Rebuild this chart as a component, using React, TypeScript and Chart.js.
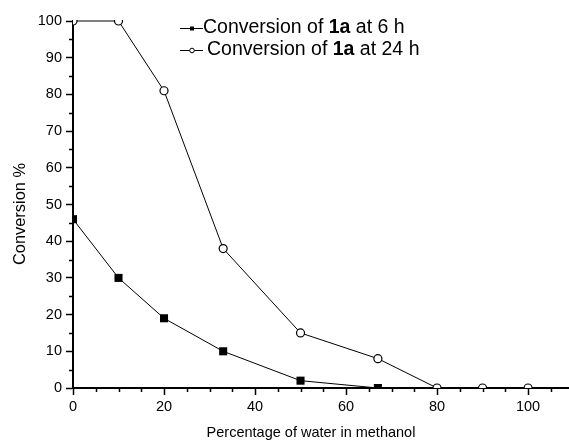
import React, { useEffect, useRef } from "react";
import { Chart, registerables } from "chart.js";

Chart.register(...registerables);

// ---- data ----
const waterPct6h = [0, 10, 20, 33, 50, 67];
const conversion6h = [46, 30, 19, 10, 2, 0];
const waterPct24h = [0, 10, 20, 33, 50, 67, 80, 90, 100];
const conversion24h = [100, 100, 81, 38, 15, 8, 0, 0, 0];
const legendParts6h = [
  { t: "Conversion of ", b: false },
  { t: "1a", b: true },
  { t: " at 6 h", b: false },
];
const legendParts24h = [
  { t: "Conversion of ", b: false },
  { t: "1a", b: true },
  { t: " at 24 h", b: false },
];
const xTitle = "Percentage of water in methanol";
const yTitle = "Conversion %";

const FONT = "'Liberation Sans', Arial, Helvetica, sans-serif";

const minorTicksPlugin = {
  id: "minorTicks",
  afterDraw(chart: any) {
    const ctx = chart.ctx;
    const xs = chart.scales.x;
    const ys = chart.scales.y;
    ctx.save();
    ctx.strokeStyle = "#000";
    ctx.lineWidth = 1.5;
    ctx.beginPath();
    for (let v = xs.min; v <= xs.max; v += 5) {
      if (v % 20 === 0) continue;
      const px = Math.round(xs.getPixelForValue(v)) + 0.5;
      ctx.moveTo(px, ys.bottom);
      ctx.lineTo(px, ys.bottom + 4);
    }
    for (let v = ys.min; v <= ys.max; v += 5) {
      if (v % 10 === 0) continue;
      const py = Math.round(ys.getPixelForValue(v)) + 0.5;
      ctx.moveTo(xs.left, py);
      ctx.lineTo(xs.left - 4, py);
    }
    ctx.stroke();
    ctx.restore();
  },
};

const axisTitlesPlugin = {
  id: "axisTitles",
  afterDraw(chart: any) {
    const ctx = chart.ctx;
    ctx.save();
    ctx.fillStyle = "#000";
    ctx.textAlign = "center";
    ctx.textBaseline = "middle";
    ctx.font = "14.5px " + FONT;
    ctx.fillText(xTitle, 311, 433);
    ctx.translate(20, 214);
    ctx.rotate(-Math.PI / 2);
    ctx.font = "16.4px " + FONT;
    ctx.fillText(yTitle, 0, 0);
    ctx.restore();
  },
};

const legendPlugin = {
  id: "customLegend",
  afterDraw(chart: any) {
    const ctx = chart.ctx;
    const items = [
      { parts: legendParts6h, y: 28, textX: 203, marker: "rect" },
      { parts: legendParts24h, y: 50, textX: 207, marker: "circle" },
    ];
    ctx.save();
    items.forEach((it) => {
      ctx.strokeStyle = "#000";
      ctx.lineWidth = 1;
      ctx.beginPath();
      ctx.moveTo(180, it.y + 0.5);
      ctx.lineTo(203, it.y + 0.5);
      ctx.stroke();
      if (it.marker === "rect") {
        ctx.fillStyle = "#000";
        ctx.fillRect(190, it.y - 1.5, 4, 4);
      } else {
        ctx.fillStyle = "#fff";
        ctx.beginPath();
        ctx.arc(192, it.y + 0.5, 2.3, 0, Math.PI * 2);
        ctx.fill();
        ctx.stroke();
      }
      let x = it.textX;
      ctx.fillStyle = "#000";
      ctx.textBaseline = "middle";
      ctx.textAlign = "left";
      it.parts.forEach((p) => {
        ctx.font = (p.b ? "bold " : "") + "19.5px " + FONT;
        ctx.fillText(p.t, x, it.y);
        x += ctx.measureText(p.t).width;
      });
    });
    ctx.restore();
  },
};

export default function App() {
  const canvasRef = useRef<HTMLCanvasElement | null>(null);

  useEffect(() => {
    if (!canvasRef.current) return;
    const chart = new Chart(canvasRef.current, {
      type: "line",
      data: {
        datasets: [
          {
            label: "Conversion of 1a at 6 h",
            data: waterPct6h.map((x, i) => ({ x, y: conversion6h[i] })),
            borderColor: "#000",
            borderWidth: 1,
            backgroundColor: "#000",
            pointStyle: "rect",
            pointRadius: 5.7,
            pointBorderWidth: 0,
            pointBackgroundColor: "#000",
            tension: 0,
            clip: 0,
          } as any,
          {
            label: "Conversion of 1a at 24 h",
            data: waterPct24h.map((x, i) => ({ x, y: conversion24h[i] })),
            borderColor: "#000",
            borderWidth: 1,
            backgroundColor: "#fff",
            pointStyle: "circle",
            pointRadius: 4,
            pointBorderWidth: 1.2,
            pointBorderColor: "#000",
            pointBackgroundColor: "#fff",
            tension: 0,
            clip: { left: 0, top: 1, right: 0, bottom: 0 },
          } as any,
        ],
      },
      options: {
        responsive: false,
        maintainAspectRatio: false,
        animation: false,
        layout: {
          autoPadding: false,
          padding: { top: 21, right: 0, left: 0, bottom: 0 },
        },
        plugins: {
          legend: { display: false },
          tooltip: { enabled: false },
        },
        scales: {
          x: {
            type: "linear",
            min: 0,
            max: 109,
            z: 1,
            afterFit: (s: any) => {
              s.height = 54;
              s.paddingLeft = 0;
              s.paddingRight = 0;
            },
            ticks: {
              stepSize: 20,
              includeBounds: false,
              color: "#000",
              font: { family: FONT, size: 14.5 },
              padding: 3,
              maxRotation: 0,
            },
            grid: {
              drawOnChartArea: false,
              drawTicks: true,
              tickLength: 7,
              tickColor: "#000",
              tickWidth: 1.5,
            },
            border: { display: true, color: "#000", width: 2 },
            title: { display: false, text: xTitle },
          },
          y: {
            type: "linear",
            min: 0,
            max: 100,
            z: 1,
            afterFit: (s: any) => {
              s.width = 73;
              s.paddingTop = 0;
              s.paddingBottom = 0;
            },
            ticks: {
              stepSize: 10,
              includeBounds: false,
              color: "#000",
              font: { family: FONT, size: 14.5 },
              padding: 4,
            },
            grid: {
              drawOnChartArea: false,
              drawTicks: true,
              tickLength: 7,
              tickColor: "#000",
              tickWidth: 1.5,
            },
            border: { display: true, color: "#000", width: 2 },
            title: { display: false, text: yTitle },
          },
        },
      } as any,
      plugins: [minorTicksPlugin, axisTitlesPlugin, legendPlugin],
    });
    return () => chart.destroy();
  }, []);

  return (
    <div
      style={{
        position: "absolute",
        left: 0,
        top: 0,
        width: 569,
        height: 442,
        background: "#fff",
      }}
    >
      <canvas ref={canvasRef} width={569} height={442} />
    </div>
  );
}
